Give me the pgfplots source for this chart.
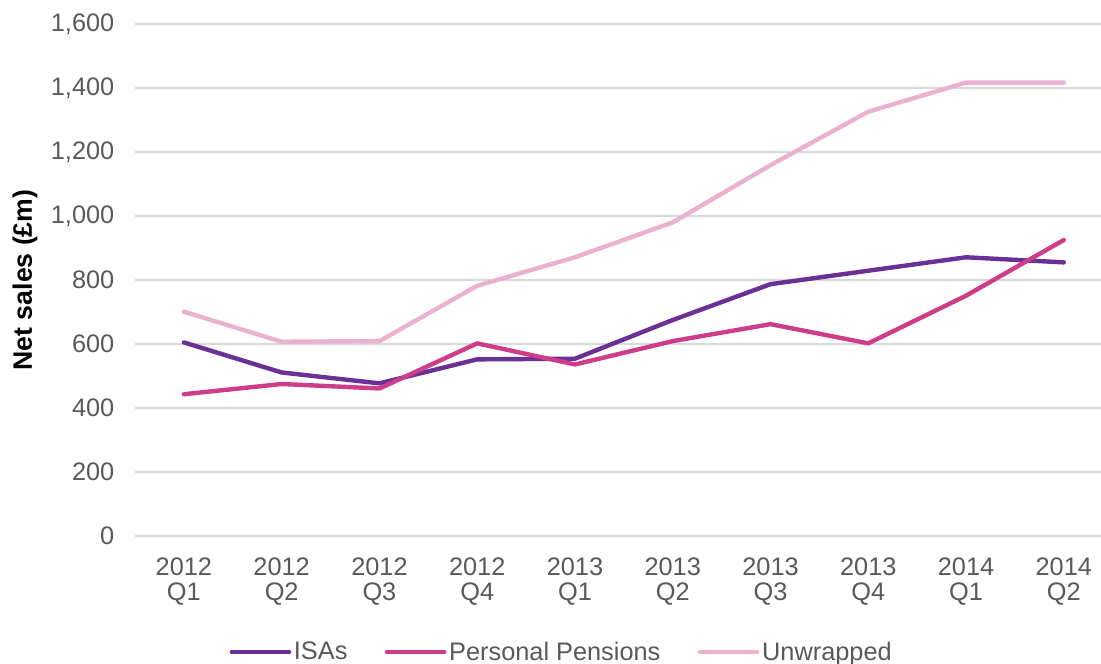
\documentclass[border=0pt]{standalone}
\usepackage{fontspec}
\setmainfont{Liberation Sans}
\usepackage{pgfplots}
\pgfplotsset{compat=1.18}
\definecolor{isa}{RGB}{107,48,150}
\definecolor{pen}{RGB}{205,61,138}
\definecolor{unw}{RGB}{234,178,208}
\definecolor{tickc}{RGB}{89,89,89}
\definecolor{gridc}{RGB}{217,217,217}
\begin{document}
\begin{tikzpicture}
\begin{axis}[
 at={(101.25pt,96pt)}, anchor=south west,
 scale only axis, width=724.5pt, height=384pt,
 xmin=-0.5, xmax=9.38, ymin=0, ymax=1600,
 xtick={0,...,9},
 xticklabels={{2012\\Q1},{2012\\Q2},{2012\\Q3},{2012\\Q4},{2013\\Q1},{2013\\Q2},{2013\\Q3},{2013\\Q4},{2014\\Q1},{2014\\Q2}},
 ytick={0,200,...,1600},
 ymajorgrids, grid style={gridc, line width=0.9pt},
 axis line style={draw=none},
 major tick length=0pt,
 tick label style={font=\fontsize{19}{18.5}\selectfont, text=tickc},
 xticklabel style={align=center, yshift=-13pt},
 yticklabel style={xshift=-12pt},
 /pgf/number format/.cd, 1000 sep={,}, assume math mode=true, /pgfplots/.cd,
 ylabel={\textbf{Net sales (£m)}},
 ylabel style={at={(axis description cs:-0.1139,0.5)}, anchor=center, font=\fontsize{20}{22}\selectfont},
 legend columns=3,
 legend style={at={(axis description cs:0.442,-0.2266)}, anchor=center, draw=none, fill=none,
   font=\fontsize{19}{21}\selectfont, text=tickc,
   /tikz/every even column/.append style={column sep=26pt},
   nodes={inner sep=2pt}},
 legend image code/.code={\draw[#1] (0pt,0pt) -- (43pt,0pt);},
 every axis plot/.append style={line width=3.3pt, line join=round, line cap=round},
]
\addplot[isa] coordinates {(0,605) (1,511) (2,477) (3,552) (4,554) (5,675) (6,787) (7,829) (8,871) (9,855)};
\addlegendentry{ISAs}
\addplot[pen] coordinates {(0,443) (1,475) (2,461) (3,602) (4,536) (5,609) (6,662) (7,602) (8,751) (9,925)};
\addlegendentry{Personal Pensions}
\addplot[unw] coordinates {(0,701) (1,607) (2,609) (3,782) (4,871) (5,980) (6,1159) (7,1326) (8,1417) (9,1417)};
\addlegendentry{Unwrapped}
\end{axis}
\pgfresetboundingbox
\useasboundingbox (0,0) rectangle (825.75pt,498pt);
\end{tikzpicture}
\end{document}
